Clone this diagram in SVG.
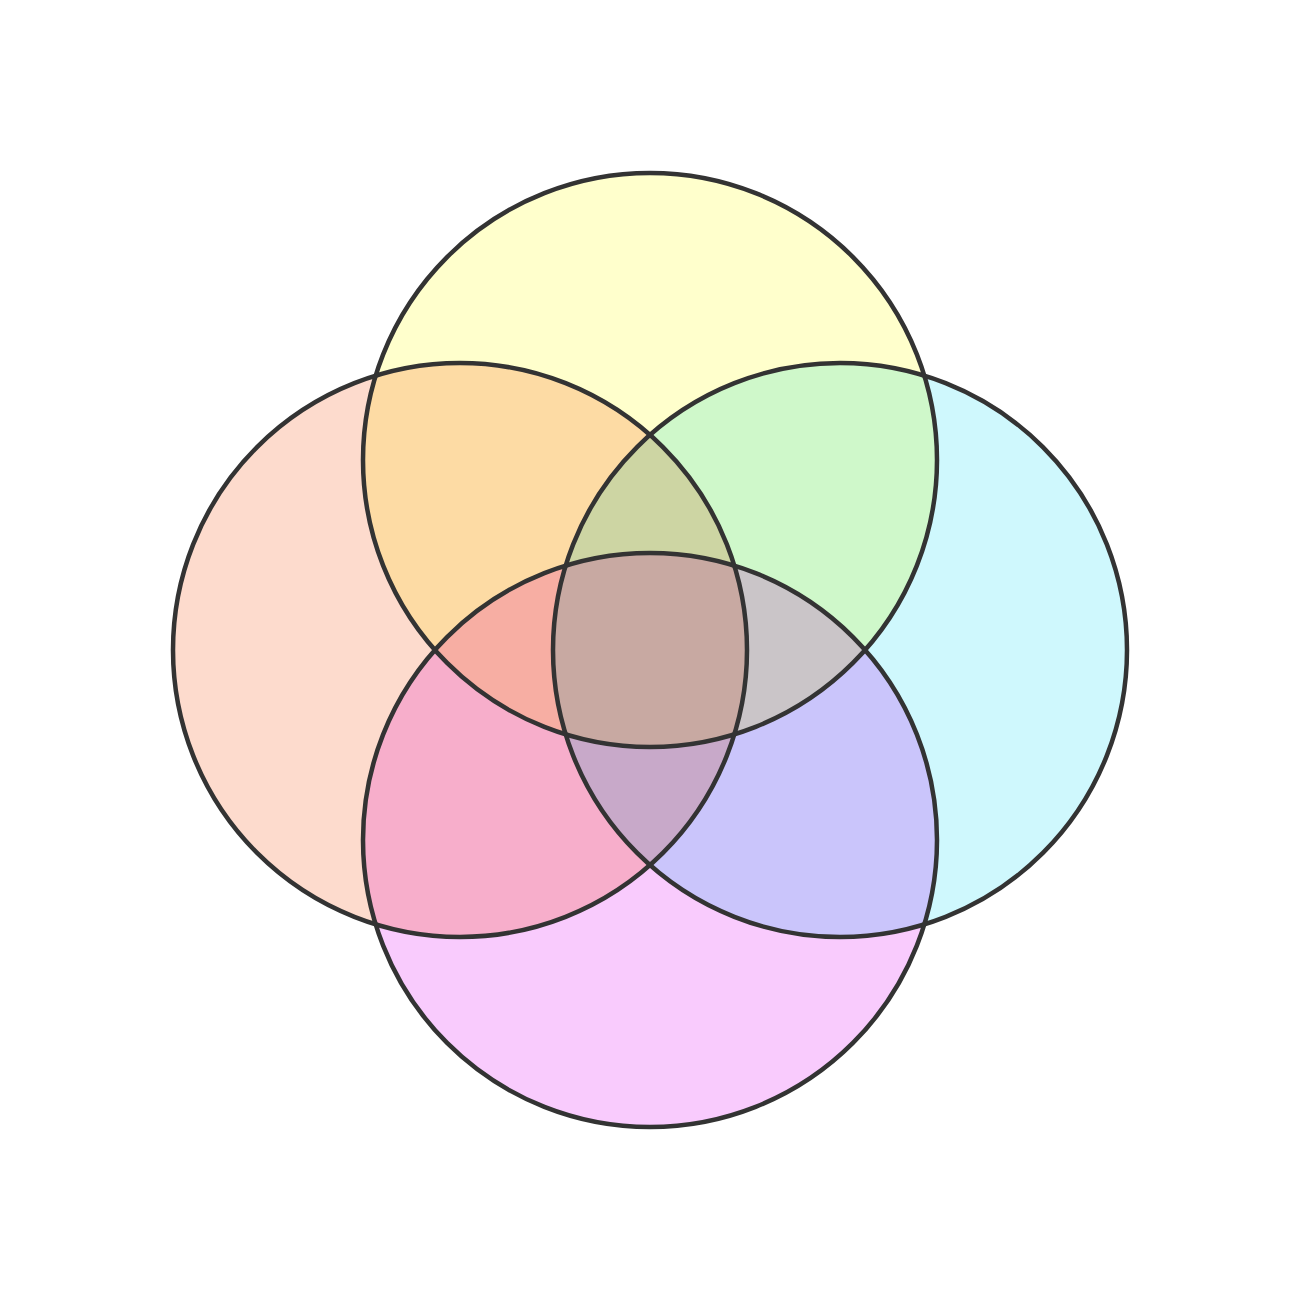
<svg xmlns="http://www.w3.org/2000/svg" width="1300" height="1300" viewBox="0 0 1300 1300">
<style>
.fill{mix-blend-mode:multiply;stroke:none}
.ring{fill:none;stroke:#333333;stroke-width:4.5}
</style>
<rect width="1300" height="1300" fill="#ffffff"/>
<g id="fills" style="isolation:isolate">
<rect width="1300" height="1300" fill="#ffffff"/>
<circle class="fill" cx="650" cy="460" r="287" fill="#ffffcc"/>
<circle class="fill" cx="460" cy="650" r="287" fill="#fddbcd"/>
<circle class="fill" cx="840" cy="650" r="287" fill="#cff8fd"/>
<circle class="fill" cx="650" cy="840" r="287" fill="#f9cbfd"/>
</g>
<g id="top"><circle class="ring" cx="650" cy="460" r="287"/></g>
<g id="left"><circle class="ring" cx="460" cy="650" r="287"/></g>
<g id="right"><circle class="ring" cx="840" cy="650" r="287"/></g>
<g id="bottom"><circle class="ring" cx="650" cy="840" r="287"/></g>
</svg>
